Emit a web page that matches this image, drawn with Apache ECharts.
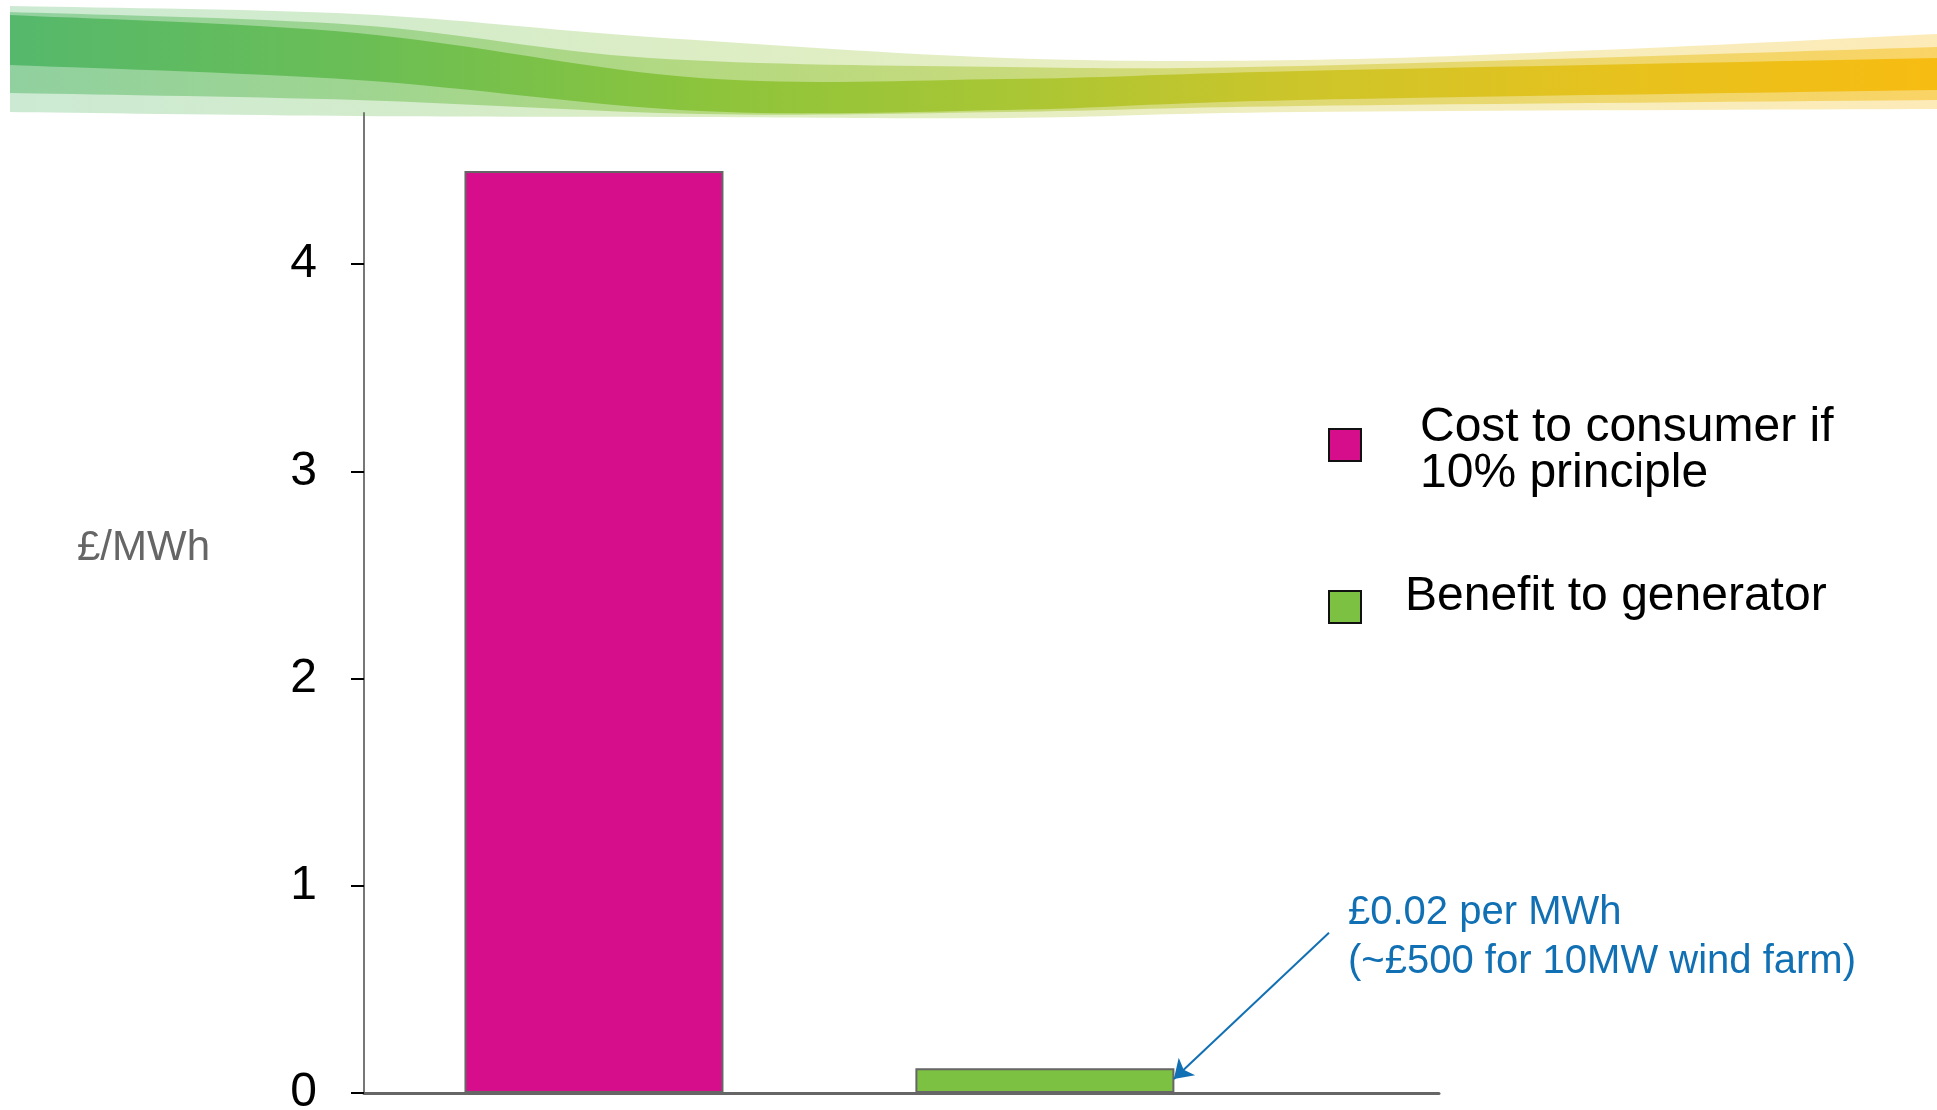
<!DOCTYPE html>
<html>
<head>
<meta charset="utf-8">
<title>Cost to consumer vs benefit to generator</title>
<script src="https://cdn.jsdelivr.net/npm/echarts@6/dist/echarts.min.js"></script>
<style>
html, body { margin: 0; padding: 0; background: #fff; }
#main { width: 1937px; height: 1110px; }
</style>
</head>
<body>
<div id="main"></div>
<script>
// one bar per series (£/MWh)
const seriesNames = ['Cost to consumer if\n10% principle', 'Benefit to generator'];
const barX = [0.51, 1.51];
const barValues = [4.45, 0.12];
const barColors = ['#d70e8c', '#7dc142'];
const yTicks = [0, 1, 2, 3, 4];
const yMax = 4.73;
const xMax = 2.384;
// note + arrow pointing at the small bar
const noteLines = ['£0.02 per MWh', '(~£500 for 10MW wind farm)'];
const arrowFrom = [2.14, 0.773];
const arrowTo = [1.796, 0.068];

const font = '"Liberation Sans", Arial, sans-serif';

// decorative wave at the top (pixel points, not data)
const waves = [
  { op: 0.3,
    top: [[10, 6], [357, 14], [650, 37], [1007, 58], [1300, 60], [1600, 50], [1937, 34]],
    bottom: [[1937, 109], [1300, 112], [1007, 118], [700, 117], [357, 116], [10, 112]] },
  { op: 0.5,
    top: [[10, 12], [357, 25], [650, 58], [1007, 67], [1300, 66], [1937, 47]],
    bottom: [[1937, 100], [1300, 106], [1007, 112], [700, 114], [357, 100], [10, 93]] },
  { op: 1,
    top: [[10, 15], [357, 33], [700, 78], [1007, 79], [1300, 71], [1937, 58]],
    bottom: [[1937, 90], [1300, 100], [1007, 110], [700, 111], [357, 80], [10, 65]] }
];

// catmull-rom through the points, sampled into a point list
function curve(pts) {
  const out = [];
  for (let i = 0; i < pts.length - 1; i++) {
    const p0 = pts[i - 1] || pts[i], p1 = pts[i], p2 = pts[i + 1], p3 = pts[i + 2] || p2;
    const c1 = [p1[0] + (p2[0] - p0[0]) / 6, p1[1] + (p2[1] - p0[1]) / 6];
    const c2 = [p2[0] - (p3[0] - p1[0]) / 6, p2[1] - (p3[1] - p1[1]) / 6];
    for (let k = 0; k < 16; k++) {
      const t = k / 16, u = 1 - t;
      out.push([
        u * u * u * p1[0] + 3 * u * u * t * c1[0] + 3 * u * t * t * c2[0] + t * t * t * p2[0],
        u * u * u * p1[1] + 3 * u * u * t * c1[1] + 3 * u * t * t * c2[1] + t * t * t * p2[1]
      ]);
    }
  }
  out.push(pts[pts.length - 1]);
  return out;
}

const waveGraphics = waves.map(w => ({
  type: 'polygon',
  silent: true,
  shape: { points: curve(w.top).concat(curve(w.bottom)) },
  style: {
    opacity: w.op,
    fill: {
      type: 'linear', x: 0, y: 0, x2: 1, y2: 0,
      colorStops: [
        { offset: 0, color: '#55b86c' },
        { offset: 0.18, color: '#6abe55' },
        { offset: 0.36, color: '#8cc43c' },
        { offset: 0.52, color: '#a9c634' },
        { offset: 0.67, color: '#cdc52a' },
        { offset: 0.83, color: '#e6c21e' },
        { offset: 1, color: '#f7bc12' }
      ]
    }
  }
}));

const myChart = echarts.init(document.getElementById('main'));
myChart.setOption({
  animation: false,
  backgroundColor: '#fff',
  graphic: waveGraphics,
  title: [
    {
      text: '£/MWh', left: 77, top: 527, padding: 0,
      textStyle: { fontSize: 42, lineHeight: 42, fontWeight: 'normal', color: '#666', fontFamily: font }
    },
    {
      text: noteLines.join('\n'), left: 1348, top: 888, padding: 0,
      textStyle: { fontSize: 40, lineHeight: 49, fontWeight: 'normal', color: '#1170b4', fontFamily: font }
    }
  ],
  legend: {
    orient: 'vertical',
    left: 1328,
    top: 393,
    padding: 0,
    itemGap: 75,
    itemWidth: 32,
    itemHeight: 32,
    icon: 'rect',
    selectedMode: false,
    itemStyle: { borderColor: '#111', borderWidth: 2 },
    // spacer lines nudge each text block against its icon
    formatter: name => name === seriesNames[0] ? '{s1| }\n' + name : name + '\n{s2| }',
    textStyle: {
      fontSize: 48, lineHeight: 46, color: '#000', fontFamily: font,
      rich: { s1: { fontSize: 8, lineHeight: 12 }, s2: { fontSize: 8, lineHeight: 20 } }
    },
    data: [
      { name: seriesNames[0], textStyle: { padding: [0, 0, 0, 54] } },
      { name: seriesNames[1], textStyle: { padding: [0, 0, 0, 39] } }
    ]
  },
  grid: { left: 364, right: 498, top: 113, bottom: 17, containLabel: false, outerBoundsMode: 'none' },
  xAxis: {
    type: 'value',
    min: 0,
    max: xMax,
    axisLine: { show: true, lineStyle: { color: '#666', width: 3 } },
    axisTick: { show: false },
    axisLabel: { show: false },
    splitLine: { show: false }
  },
  yAxis: {
    type: 'value',
    min: 0,
    max: yMax,
    interval: 1,
    axisLine: { show: true, lineStyle: { color: '#777', width: 2 } },
    axisTick: { show: true, length: 13, customValues: yTicks, lineStyle: { color: '#000', width: 2 } },
    axisLabel: {
      customValues: yTicks, fontSize: 48, color: '#000', margin: 47,
      padding: [0, 0, 10, 0], fontFamily: font
    },
    splitLine: { show: false }
  },
  series: seriesNames.map((name, i) => {
    const s = {
      name: name,
      type: 'bar',
      barWidth: 259,
      barGap: '-100%',
      data: [[barX[i], barValues[i]]],
      itemStyle: { color: barColors[i], borderColor: '#666', borderWidth: 2 }
    };
    if (i === 1) {
      s.markLine = {
        silent: true,
        symbol: ['none', 'arrow'],
        symbolSize: 18,
        lineStyle: { color: '#1170b4', width: 2, type: 'solid' },
        label: { show: false },
        data: [[{ coord: arrowFrom }, { coord: arrowTo }]]
      };
    }
    return s;
  })
});
</script>
</body>
</html>
